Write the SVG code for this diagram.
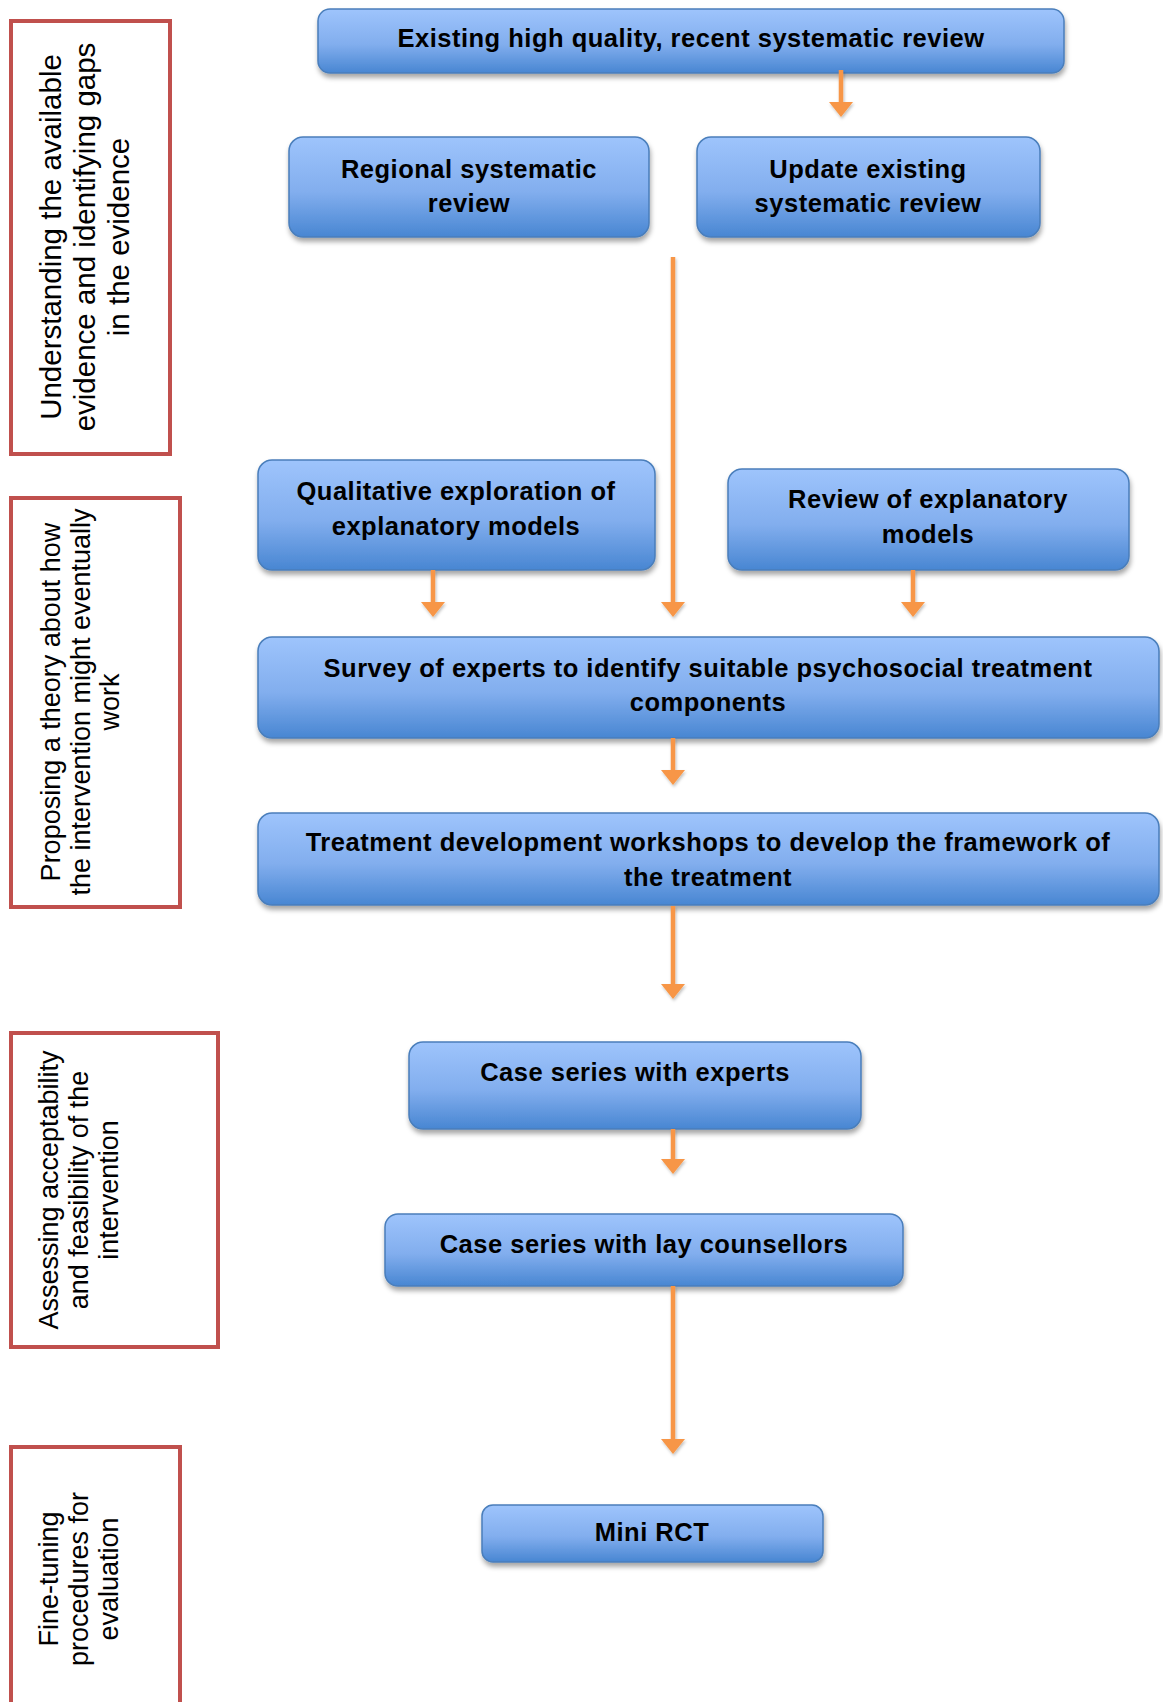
<svg xmlns="http://www.w3.org/2000/svg" width="1163" height="1702" viewBox="0 0 1163 1702">
  <defs>
    <linearGradient id="blueFill" x1="0" y1="0" x2="0" y2="1">
      <stop offset="0" stop-color="#9EC4FC"/>
      <stop offset="0.55" stop-color="#82AEEE"/>
      <stop offset="1" stop-color="#4886D2"/>
    </linearGradient>
    <filter id="nodeShadow" x="-5%" y="-10%" width="110%" height="135%">
      <feDropShadow dx="1" dy="4" stdDeviation="2.5" flood-color="#000" flood-opacity="0.35"/>
    </filter>
    <filter id="arrowShadow" x="-50%" y="-10%" width="200%" height="130%">
      <feDropShadow dx="1" dy="2" stdDeviation="1.5" flood-color="#000" flood-opacity="0.25"/>
    </filter>
    <marker id="head" viewBox="0 -12 15 24" refX="1" refY="0" markerWidth="15" markerHeight="24" markerUnits="userSpaceOnUse" orient="auto">
      <path d="M0,-12 L15,0 L0,12 z" fill="#F79646"/>
    </marker>
  </defs>
  <style>
    .phase { fill: #FFFFFF; stroke: #C0504D; stroke-width: 4; }
    .phase-text { font-family: "Liberation Sans", Arial, sans-serif; font-size: 27px; fill: #000; text-anchor: middle; }
    .phase-text.big { font-size: 29.5px; }
    .node rect { fill: url(#blueFill); stroke: #4A7EBB; stroke-width: 1.5; filter: url(#nodeShadow); }
    .label { font-family: "Liberation Sans", Arial, sans-serif; font-weight: bold; font-size: 25.5px; letter-spacing: 0.5px; fill: #000; text-anchor: middle; }
    .conn { stroke: #F79646; stroke-width: 4.5; fill: none; marker-end: url(#head); }
  </style>

  <rect width="1163" height="1702" fill="#FFFFFF"/>

  <!-- phase boxes on the left, text runs bottom to top -->
  <g id="phase-1">
    <rect class="phase" x="11" y="21" width="159" height="433"/>
    <g transform="translate(0,237) rotate(-90)">
      <text class="phase-text big" x="0" y="61">Understanding the available</text>
      <text class="phase-text big" x="0" y="95">evidence and identifying gaps</text>
      <text class="phase-text big" x="0" y="129">in the evidence</text>
    </g>
  </g>
  <g id="phase-2">
    <rect class="phase" x="11" y="498" width="169" height="409"/>
    <g transform="translate(0,702) rotate(-90)">
      <text class="phase-text" x="0" y="60">Proposing a theory about how</text>
      <text class="phase-text" x="0" y="90">the intervention might eventually</text>
      <text class="phase-text" x="0" y="119">work</text>
    </g>
  </g>
  <g id="phase-3">
    <rect class="phase" x="11" y="1033" width="207" height="314"/>
    <g transform="translate(0,1190) rotate(-90)">
      <text class="phase-text" x="0" y="58">Assessing acceptability</text>
      <text class="phase-text" x="0" y="88">and feasibility of the</text>
      <text class="phase-text" x="0" y="118">intervention</text>
    </g>
  </g>
  <g id="phase-4">
    <rect class="phase" x="11" y="1447" width="169" height="266"/>
    <g transform="translate(0,1579) rotate(-90)">
      <text class="phase-text" x="0" y="58">Fine-tuning</text>
      <text class="phase-text" x="0" y="88">procedures for</text>
      <text class="phase-text" x="0" y="118">evaluation</text>
    </g>
  </g>

  <!-- process steps -->
  <g id="existing-review" class="node">
    <rect x="318" y="9" width="746" height="64" rx="12"/>
    <text class="label" x="691" y="47">Existing high quality, recent systematic review</text>
  </g>
  <g id="regional-review" class="node">
    <rect x="289" y="137" width="360" height="100" rx="14"/>
    <text class="label" x="469" y="178">Regional systematic</text>
    <text class="label" x="469" y="212">review</text>
  </g>
  <g id="update-review" class="node">
    <rect x="697" y="137" width="343" height="100" rx="14"/>
    <text class="label" x="868" y="178">Update existing</text>
    <text class="label" x="868" y="212">systematic review</text>
  </g>
  <g id="qualitative-exploration" class="node">
    <rect x="258" y="460" width="397" height="110" rx="14"/>
    <text class="label" x="456" y="500">Qualitative exploration of</text>
    <text class="label" x="456" y="535">explanatory models</text>
  </g>
  <g id="review-models" class="node">
    <rect x="728" y="469" width="401" height="101" rx="14"/>
    <text class="label" x="928" y="508">Review of explanatory</text>
    <text class="label" x="928" y="543">models</text>
  </g>
  <g id="expert-survey" class="node">
    <rect x="258" y="637" width="901" height="101" rx="14"/>
    <text class="label" x="708" y="677">Survey of experts to identify suitable psychosocial treatment</text>
    <text class="label" x="708" y="711">components</text>
  </g>
  <g id="workshops" class="node">
    <rect x="258" y="813" width="901" height="92" rx="14"/>
    <text class="label" x="708" y="851">Treatment development workshops to develop the framework of</text>
    <text class="label" x="708" y="886">the treatment</text>
  </g>
  <g id="case-experts" class="node">
    <rect x="409" y="1042" width="452" height="87" rx="14"/>
    <text class="label" x="635" y="1081">Case series with experts</text>
  </g>
  <g id="case-lay" class="node">
    <rect x="385" y="1214" width="518" height="72" rx="13"/>
    <text class="label" x="644" y="1253">Case series with lay counsellors</text>
  </g>
  <g id="mini-rct" class="node">
    <rect x="482" y="1505" width="341" height="57" rx="11"/>
    <text class="label" x="652" y="1541">Mini RCT</text>
  </g>

  <!-- connectors -->
  <g id="connectors" filter="url(#arrowShadow)">
    <path class="conn" d="M841,70 V103"/>
    <path class="conn" d="M673,257 V603"/>
    <path class="conn" d="M433,570 V603"/>
    <path class="conn" d="M913,570 V603"/>
    <path class="conn" d="M673,738 V771"/>
    <path class="conn" d="M673,906 V985"/>
    <path class="conn" d="M673,1129 V1160"/>
    <path class="conn" d="M673,1286 V1440"/>
  </g>
</svg>
